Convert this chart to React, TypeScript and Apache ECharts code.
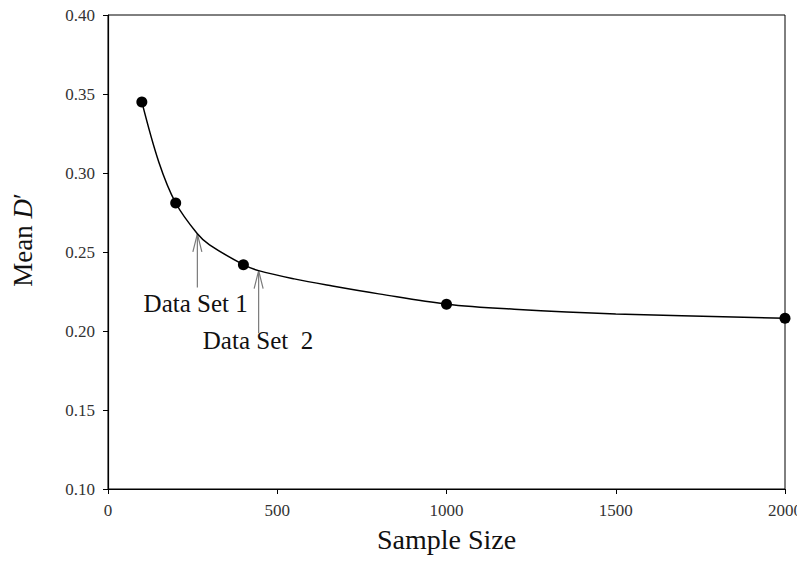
import React, { useEffect, useRef } from "react";
import * as echarts from "echarts";

// measured data points
const sampleSizes = [100, 200, 400, 1000, 2000];
const meanD = [0.345, 0.281, 0.242, 0.217, 0.208];

// fitted curve
const curveX = [100, 150, 200, 264, 300, 400, 445, 550, 663, 800, 1000, 1200, 1500, 2000];
const curveY = [0.345, 0.307, 0.281, 0.2615, 0.2545, 0.242, 0.2382, 0.233, 0.2285, 0.2235, 0.217, 0.2138, 0.2108, 0.208];

const xTickValues = [0, 500, 1000, 1500, 2000];
const yTickValues = [0.1, 0.15, 0.2, 0.25, 0.3, 0.35, 0.4];

// arrows: sample size, tip value, tail value
const arrowX = [264, 445];
const arrowTip = [0.2615, 0.2382];
const arrowTail = [0.2275, 0.1985];

const labelTexts = ["Data Set 1", "Data Set  2"];
const labelX = [259, 280];
const labelY = [0.2174, 0.1939];
const labelAlign = ["center", "left"];

const FONT = "Liberation Serif, Times New Roman, serif";

export default function App() {
  const ref = useRef<HTMLDivElement>(null);
  useEffect(() => {
    if (!ref.current) return;
    const chart = echarts.init(ref.current, undefined, { renderer: "svg" });
    const option: any = {
      animation: false,
      backgroundColor: "#fff",
      textStyle: { fontFamily: FONT },
      grid: {
        left: 108,
        right: 18,
        top: 15,
        bottom: 75,
        show: true,
        borderColor: "#000",
        borderWidth: 1,
        backgroundColor: "transparent",
      },
      xAxis: {
        type: "value",
        min: xTickValues[0],
        max: xTickValues[xTickValues.length - 1],
        interval: 500,
        name: "Sample Size",
        nameLocation: "middle",
        nameGap: 36,
        nameTextStyle: { fontFamily: FONT, fontSize: 28, color: "#111" },
        axisLine: { show: true, lineStyle: { color: "#000", width: 1.2 } },
        axisTick: { show: true, length: 5, lineStyle: { color: "#000" } },
        axisLabel: {
          fontFamily: FONT,
          fontSize: 17,
          color: "#333",
          margin: 13,
          formatter: (v: number) => String(v),
        },
        splitLine: { show: false },
      },
      yAxis: {
        type: "value",
        min: yTickValues[0],
        max: yTickValues[yTickValues.length - 1],
        interval: 0.05,
        name: "{a|Mean }{b|D}{a|′}",
        nameLocation: "middle",
        nameGap: 72,
        nameRotate: 90,
        nameTextStyle: {
          fontFamily: FONT,
          fontSize: 27,
          color: "#111",
          padding: [0, 0, 0, 24],
          rich: {
            a: { fontFamily: FONT, fontSize: 27, color: "#111" },
            b: { fontFamily: FONT, fontSize: 27, color: "#111", fontStyle: "italic" },
          },
        },
        axisLine: { show: true, lineStyle: { color: "#000", width: 1.2 } },
        axisTick: { show: true, length: 5, lineStyle: { color: "#000" } },
        axisLabel: {
          fontFamily: FONT,
          fontSize: 17,
          color: "#333",
          margin: 13,
          formatter: (v: number) => v.toFixed(2),
        },
        splitLine: { show: false },
      },
      series: [
        {
          type: "line",
          data: curveX.map((s, i) => [s, curveY[i]]),
          smooth: 0.35,
          showSymbol: false,
          symbol: "none",
          lineStyle: { color: "#000", width: 1.5 },
          silent: true,
          z: 2,
        },
        {
          type: "scatter",
          data: sampleSizes.map((s, i) => [s, meanD[i]]),
          symbol: "circle",
          symbolSize: 11,
          itemStyle: { color: "#000", opacity: 1 },
          z: 3,
        },
        {
          type: "custom",
          silent: true,
          clip: false,
          data: arrowX.map((x, i) => [x, arrowTip[i], arrowTail[i]]),
          encode: { x: 0, y: [1, 2] },
          renderItem: (params: any, api: any) => {
            const tip = api.coord([api.value(0), api.value(1)]);
            const tail = api.coord([api.value(0), api.value(2)]);
            const stroke = "#7a7a7a";
            return {
              type: "group",
              children: [
                {
                  type: "line",
                  shape: { x1: tip[0], y1: tip[1], x2: tail[0], y2: tail[1] },
                  style: { stroke, lineWidth: 1.2 },
                },
                {
                  type: "polyline",
                  shape: {
                    points: [
                      [tip[0] - 4.5, tip[1] + 18],
                      [tip[0], tip[1]],
                      [tip[0] + 4.5, tip[1] + 18],
                    ],
                  },
                  style: { stroke, lineWidth: 1.2, fill: null },
                },
              ],
            };
          },
          z: 2,
        },
        {
          type: "custom",
          silent: true,
          clip: false,
          data: labelX.map((x, i) => [x, labelY[i]]),
          encode: { x: 0, y: 1 },
          renderItem: (params: any, api: any) => {
            const p = api.coord([api.value(0), api.value(1)]);
            const i = params.dataIndex;
            return {
              type: "text",
              x: p[0],
              y: p[1],
              style: {
                text: labelTexts[i],
                fontFamily: FONT,
                fontSize: 25,
                fill: "#111",
                align: labelAlign[i],
                verticalAlign: "middle",
              },
            };
          },
          z: 4,
        },
      ],
    };
    chart.setOption(option);
    return () => chart.dispose();
  }, []);
  return <div ref={ref} style={{ width: 805, height: 564, margin: -8 }} />;
}
